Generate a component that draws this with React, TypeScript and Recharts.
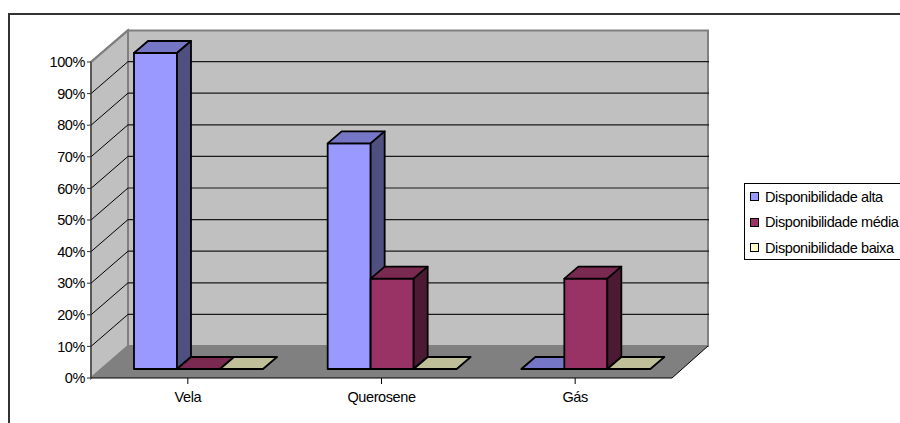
import { BarChart, Bar, XAxis, YAxis, CartesianGrid, Legend } from "recharts";

const categories = ["Vela", "Querosene", "Gás"];
const altaValues = [100, 71.4, 0];
const mediaValues = [0, 28.6, 28.6];
const baixaValues = [0, 0, 0];
const yTicks = [0, 10, 20, 30, 40, 50, 60, 70, 80, 90, 100];

const data = categories.map((name, i) => ({
  name,
  alta: altaValues[i],
  media: mediaValues[i],
  baixa: baixaValues[i],
}));

const FONT = "'Liberation Sans', Arial, sans-serif";
const tickStyle = { fill: "#000", fontSize: 14.5, fontFamily: FONT, letterSpacing: -0.4 };

// 3D offsets: front of the box to the back wall, and floor to the bars' front face
const WALL_DX = 37;
const WALL_DY = 32;
const BAR_DX = 11;
const BAR_DY = 9;
const DEPTH_DX = 14;
const DEPTH_DY = 12;

function makePrism(front: string, top: string, side: string) {
  return function Prism(props: any) {
    const { width } = props;
    const x = props.x + BAR_DX;
    const y = props.y - BAR_DY;
    const b = y + props.height;
    const r = x + width;
    const common = { stroke: "#000", strokeWidth: 1.8, strokeLinejoin: "round" as const };
    return (
      <g>
        {props.height > 0 && <rect x={x} y={y} width={width} height={props.height} fill={front} {...common} />}
        <polygon
          points={`${x},${y} ${x + DEPTH_DX},${y - DEPTH_DY} ${r + DEPTH_DX},${y - DEPTH_DY} ${r},${y}`}
          fill={top}
          {...common}
        />
        {props.height > 0 && (
          <polygon
            points={`${r},${y} ${r + DEPTH_DX},${y - DEPTH_DY} ${r + DEPTH_DX},${b - DEPTH_DY} ${r},${b}`}
            fill={side}
            {...common}
          />
        )}
      </g>
    );
  };
}

function GridLine(props: any) {
  const { x1, x2, y1, index } = props;
  const last = y1 <= 63;
  if (y1 >= 377) return <g key={index} />;
  return (
    <g key={index}>
      <line x1={x1} y1={y1} x2={x1 + WALL_DX} y2={y1 - WALL_DY} stroke={last ? "#808080" : "#000"} strokeWidth={last ? 2 : 1} />
      {!last && <line x1={x1 + WALL_DX} y1={y1 - WALL_DY} x2={x2 + WALL_DX} y2={y1 - WALL_DY} stroke="#1a1a1a" strokeWidth={1.2} />}
    </g>
  );
}

function LegendBox({ payload }: any) {
  return (
    <div
      style={{
        width: 170,
        height: 77,
        boxSizing: "border-box",
        border: "1px solid #000",
        background: "#fff",
        fontFamily: FONT,
        fontSize: 14.5,
        letterSpacing: -0.4,
        color: "#000",
      }}
    >
      {payload.map((p: any) => (
        <div key={p.value} style={{ display: "flex", alignItems: "center", height: 26, marginTop: -0.5, whiteSpace: "nowrap" }}>
          <span
            style={{
              width: 7,
              height: 7,
              marginLeft: 5,
              marginRight: 6,
              border: "1.5px solid #000",
              background: p.color,
              flex: "none",
            }}
          />
          {p.value}
        </div>
      ))}
    </div>
  );
}

function Walls() {
  return (
    <svg width={900} height={423} style={{ position: "absolute", left: 0, top: 0 }}>
      <rect x={9} y={14} width={920} height={440} fill="#fff" stroke="#333" strokeWidth={2} />
      <polygon points="128,30.5 708,30.5 708,346 128,346" fill="#c0c0c0" stroke="#808080" strokeWidth={2} />
      <polygon points="91,62 128,30.5 128,346 91,378" fill="#c0c0c0" stroke="#808080" strokeWidth={2} />
      <polygon points="91,378 128,346 708,346 672,378" fill="#808080" />
      <line x1={672} y1={378} x2={708} y2={346} stroke="#000" strokeWidth={1} />
    </svg>
  );
}

export default function App() {
  return (
    <div style={{ position: "absolute", left: 0, top: 0, width: 900, height: 423, overflow: "hidden", background: "#fff" }}>
      <Walls />
      <BarChart
        width={900}
        height={423}
        data={data}
        margin={{ top: 62, right: 58, bottom: 0, left: 0 }}
        barCategoryGap={32}
        barGap={0}
        style={{ position: "absolute", left: 0, top: 0 }}
      >
        <CartesianGrid vertical={false} horizontal={GridLine as any} />
        <XAxis dataKey="name" height={45} stroke="#000" tickSize={6} tick={tickStyle} tickMargin={8} />
        <YAxis
          width={91}
          domain={[0, 100]}
          ticks={yTicks}
          interval={0}
          stroke="#333"
          tickSize={4}
          tickMargin={2}
          tickFormatter={(v: number) => `${v}%`}
          tick={tickStyle}
        />
        <Legend
          layout="vertical"
          align="right"
          verticalAlign="middle"
          width={170}
          itemSorter={null}
          content={<LegendBox />}
          wrapperStyle={{ left: 744, top: 183, right: "auto", bottom: "auto" }}
        />
        <Bar dataKey="alta" name="Disponibilidade alta" fill="#9999ff" barSize={43} isAnimationActive={false} shape={makePrism("#9999ff", "#7676c6", "#4f4f80")} />
        <Bar dataKey="media" name="Disponibilidade média" fill="#993366" barSize={43} isAnimationActive={false} shape={makePrism("#993366", "#7a2950", "#4d1a33")} />
        <Bar dataKey="baixa" name="Disponibilidade baixa" fill="#ffffcc" barSize={43} isAnimationActive={false} shape={makePrism("#ffffcc", "#bfbf99", "#80806a")} />
      </BarChart>
    </div>
  );
}
